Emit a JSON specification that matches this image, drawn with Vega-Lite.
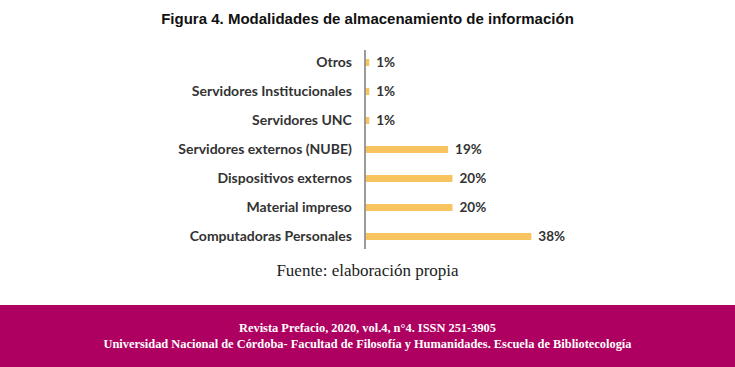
{
  "$schema": "https://vega.github.io/schema/vega-lite/v6.json",
  "padding": {"top": 12, "left": 0, "right": 0, "bottom": 0},
  "background": "white",
  "spacing": 0,
  "config": {"view": {"stroke": null}},
  "vconcat": [
    {
      "width": 735,
      "height": 203,
      "title": {"text": "Figura 4. Modalidades de almacenamiento de información", "font": "Liberation Sans", "fontSize": 15, "fontWeight": "bold", "color": "#111", "anchor": "middle", "offset": 21},
      "data": {"values": [
        {"cat": "Otros", "v": 1, "lab": "1%"},
        {"cat": "Servidores Institucionales", "v": 1, "lab": "1%"},
        {"cat": "Servidores UNC", "v": 1, "lab": "1%"},
        {"cat": "Servidores externos (NUBE)", "v": 19, "lab": "19%"},
        {"cat": "Dispositivos externos", "v": 20, "lab": "20%"},
        {"cat": "Material impreso", "v": 20, "lab": "20%"},
        {"cat": "Computadoras Personales", "v": 38, "lab": "38%"}
      ]},
      "encoding": {
        "y": {"field": "cat", "type": "nominal", "sort": null, "axis": null, "scale": {"paddingInner": 0, "paddingOuter": 0}}
      },
      "layer": [
        {
          "mark": {"type": "bar", "color": "#F8C460", "size": 7},
          "encoding": {
            "x": {"field": "v", "type": "quantitative", "axis": null, "scale": {"domain": [-83.3, 84.5], "nice": false, "zero": false}}
          }
        },
        {
          "mark": {"type": "rule", "color": "#9a9a9a", "strokeWidth": 1},
          "encoding": {"x": {"datum": 0}, "y": {"value": 2}, "y2": {"value": 201}}
        },
        {
          "mark": {"type": "text", "align": "left", "baseline": "middle", "dx": 7, "font": "Lato", "fontWeight": "bold", "fontSize": 13.5, "color": "#333"},
          "encoding": {"x": {"field": "v", "type": "quantitative"}, "text": {"field": "lab"}}
        },
        {
          "mark": {"type": "text", "align": "right", "baseline": "middle", "dx": -13, "font": "Lato", "fontWeight": "bold", "fontSize": 14, "color": "#333"},
          "encoding": {"x": {"datum": 0}, "text": {"field": "cat"}}
        }
      ]
    },
    {
      "width": 735,
      "height": 54,
      "data": {"values": [{"t": "Fuente: elaboración propia"}]},
      "mark": {"type": "text", "font": "Liberation Serif", "fontSize": 17, "color": "#222", "baseline": "middle", "dy": -7},
      "encoding": {"text": {"field": "t"}}
    },
    {
      "width": 735,
      "height": 62,
      "view": {"fill": "#AE0060", "stroke": null},
      "data": {"values": [
        {"line": 1, "t": "Revista Prefacio, 2020, vol.4, n°4. ISSN 251-3905"},
        {"line": 2, "t": "Universidad Nacional de Córdoba- Facultad de Filosofía y Humanidades. Escuela de Bibliotecología"}
      ]},
      "mark": {"type": "text", "font": "Liberation Serif", "fontWeight": "bold", "fontSize": 12.4, "color": "white", "baseline": "middle"},
      "encoding": {
        "y": {"field": "line", "type": "ordinal", "axis": null, "scale": {"range": [23, 39], "padding": 0}},
        "text": {"field": "t"}
      }
    }
  ]
}
